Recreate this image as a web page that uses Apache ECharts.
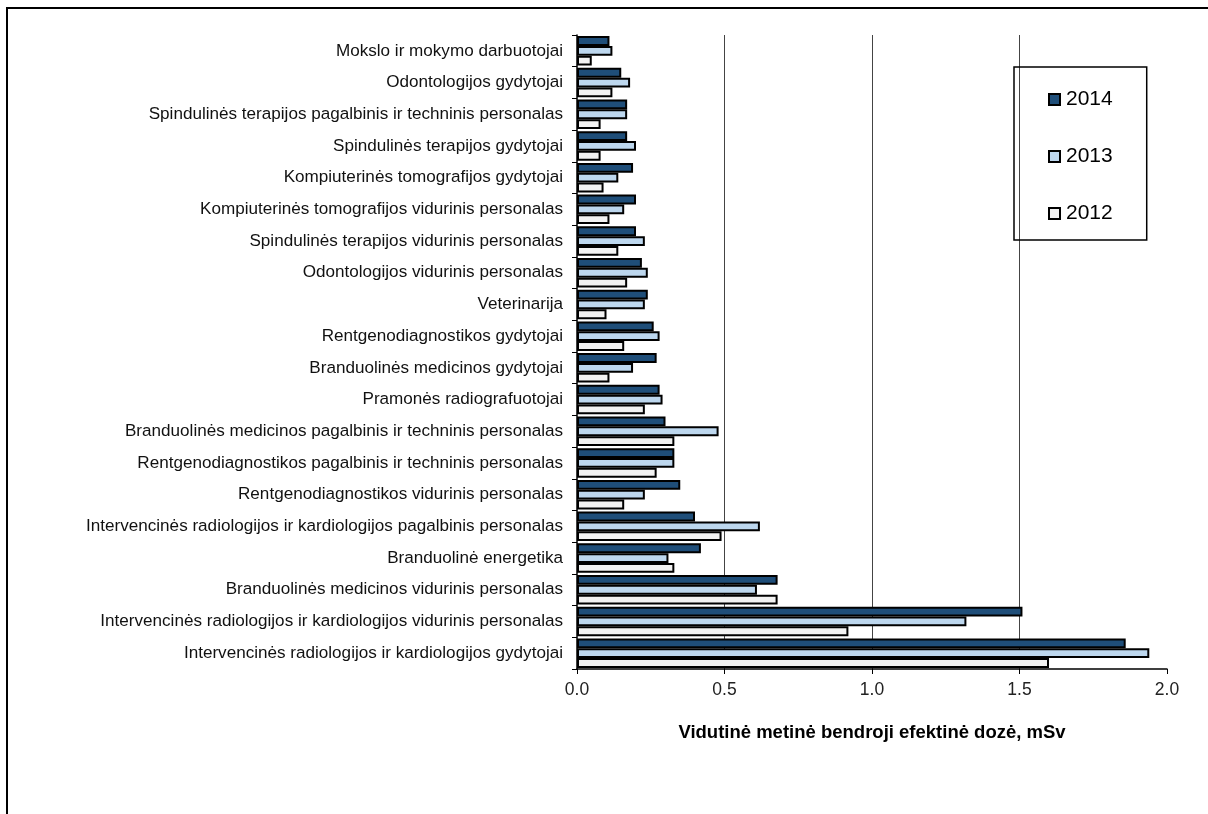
<!DOCTYPE html>
<html>
<head>
<meta charset="utf-8">
<script src="https://cdn.jsdelivr.net/npm/echarts@6/dist/echarts.min.js"></script>
<style>
  html, body { margin: 0; padding: 0; background: #fff; }
  #chart { width: 1208px; height: 814px; }
</style>
</head>
<body>
<div id="chart"></div>
<script>
// Occupational groups, listed top to bottom
const categories = [
  'Mokslo ir mokymo darbuotojai',
  'Odontologijos gydytojai',
  'Spindulinės terapijos pagalbinis ir techninis personalas',
  'Spindulinės terapijos gydytojai',
  'Kompiuterinės tomografijos gydytojai',
  'Kompiuterinės tomografijos vidurinis personalas',
  'Spindulinės terapijos vidurinis personalas',
  'Odontologijos vidurinis personalas',
  'Veterinarija',
  'Rentgenodiagnostikos gydytojai',
  'Branduolinės medicinos gydytojai',
  'Pramonės radiografuotojai',
  'Branduolinės medicinos pagalbinis ir techninis personalas',
  'Rentgenodiagnostikos pagalbinis ir techninis personalas',
  'Rentgenodiagnostikos vidurinis personalas',
  'Intervencinės radiologijos ir kardiologijos pagalbinis personalas',
  'Branduolinė energetika',
  'Branduolinės medicinos vidurinis personalas',
  'Intervencinės radiologijos ir kardiologijos vidurinis personalas',
  'Intervencinės radiologijos ir kardiologijos gydytojai'
];

// Average annual effective dose, mSv
const dose2014 = [0.11, 0.15, 0.17, 0.17, 0.19, 0.20, 0.20, 0.22, 0.24, 0.26, 0.27, 0.28, 0.30, 0.33, 0.35, 0.40, 0.42, 0.68, 1.51, 1.86];
const dose2013 = [0.12, 0.18, 0.17, 0.20, 0.14, 0.16, 0.23, 0.24, 0.23, 0.28, 0.19, 0.29, 0.48, 0.33, 0.23, 0.62, 0.31, 0.61, 1.32, 1.94];
const dose2012 = [0.05, 0.12, 0.08, 0.08, 0.09, 0.11, 0.14, 0.17, 0.10, 0.16, 0.11, 0.23, 0.33, 0.27, 0.16, 0.49, 0.33, 0.68, 0.92, 1.60];

const years = ['2014', '2013', '2012'];
const xTicks = { min: 0, max: 2, interval: 0.5 };
const axisTitle = 'Vidutinė metinė bendroji efektinė dozė, mSv';

const font = '"Liberation Sans", Arial, sans-serif';
const fills = ['#1f4e79', '#bdd7ee', '#f2f2f2'];
const values = [dose2014, dose2013, dose2012];

const chart = echarts.init(document.getElementById('chart'), null, { renderer: 'canvas' });

chart.setOption({
  animation: false,
  backgroundColor: '#ffffff',
  textStyle: { fontFamily: font },
  graphic: [{
    type: 'rect',
    z: -10,
    shape: { x: 7, y: 8, width: 1400, height: 1000 },
    style: { fill: 'none', stroke: '#000', lineWidth: 2 }
  }],
  legend: {
    orient: 'vertical',
    left: 1014,
    top: 67,
    data: years,
    itemWidth: 11,
    itemHeight: 11,
    itemGap: 36,
    icon: 'rect',
    padding: [22, 34, 16, 34],
    borderColor: '#000',
    borderWidth: 1.5,
    textStyle: { fontFamily: font, fontSize: 21, color: '#000', padding: [0, 0, 0, 1] }
  },
  grid: { left: 577, right: 41, top: 35, bottom: 145, containLabel: false },
  xAxis: {
    type: 'value',
    min: xTicks.min,
    max: xTicks.max,
    interval: xTicks.interval,
    name: axisTitle,
    nameLocation: 'middle',
    nameGap: 54,
    nameTextStyle: { fontFamily: font, fontSize: 18.5, fontWeight: 'bold', color: '#000' },
    axisLine: { show: true, lineStyle: { color: '#000', width: 1.5 } },
    axisTick: { show: true, length: 5, lineStyle: { color: '#000' } },
    axisLabel: {
      fontFamily: font, fontSize: 17.5, color: '#222', margin: 12,
      formatter: v => v.toFixed(1)
    },
    splitLine: { show: true, showMinLine: false, showMaxLine: false, lineStyle: { color: '#444', width: 1 } }
  },
  yAxis: {
    type: 'category',
    data: categories,
    inverse: true,
    axisLine: { show: true, lineStyle: { color: '#000', width: 1.5 } },
    axisTick: { show: true, length: 5, lineStyle: { color: '#000' } },
    axisLabel: { fontFamily: font, fontSize: 17.1, color: '#111', margin: 14 }
  },
  series: years.map((y, i) => ({
    name: y,
    type: 'bar',
    data: values[i],
    barGap: '0%',
    barCategoryGap: '7%',
    itemStyle: { color: fills[i], borderColor: '#000', borderWidth: 2 }
  }))
});
</script>
</body>
</html>
